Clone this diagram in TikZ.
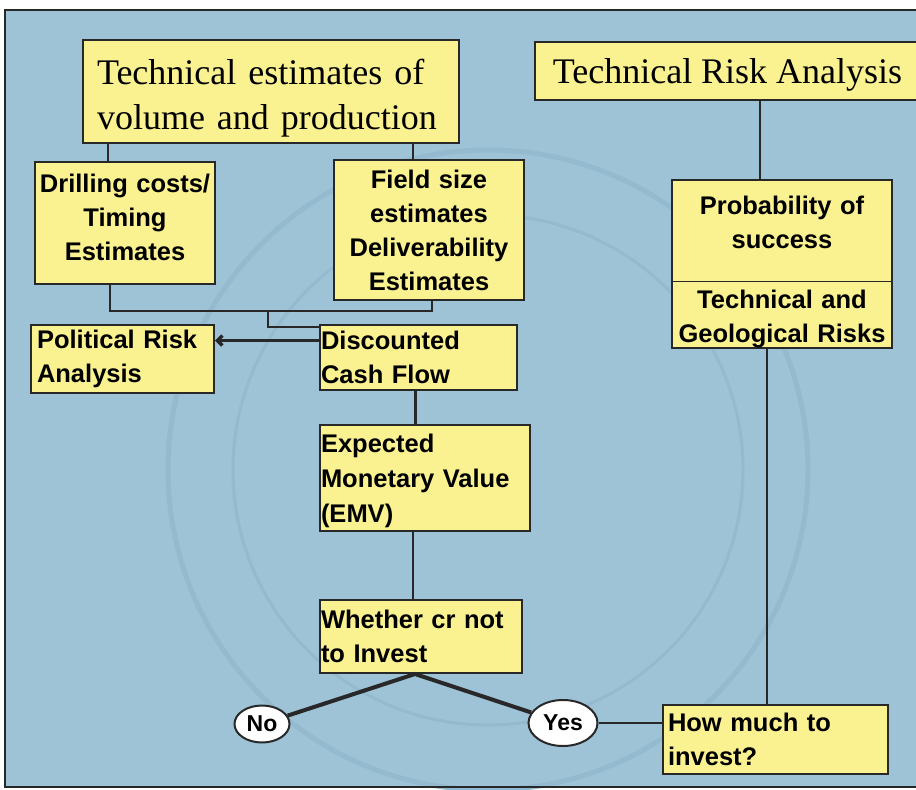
\documentclass[tikz,border=0pt]{standalone}
\usepackage{fontspec}
\setmainfont{Liberation Serif}
\setsansfont{Liberation Sans}
\usetikzlibrary{arrows.meta,shapes.geometric}
\definecolor{bgblue}{RGB}{158,195,214}
\definecolor{embblue}{RGB}{147,186,207}
\definecolor{boxyellow}{RGB}{250,241,145}
\definecolor{ink}{RGB}{40,40,40}

\begin{document}
\begin{tikzpicture}[x=1pt,y=-1pt]
\tikzstyle{infobox}=[draw=ink,line width=2pt,fill=boxyellow,inner sep=0pt,font=\sffamily\bfseries\fontsize{25.5}{34}\selectfont]
\tikzstyle{headbox}=[infobox,font=\rmfamily\fontsize{36}{45}\selectfont]
\tikzstyle{answer}=[ellipse,draw=ink,line width=2pt,fill=white,inner sep=0pt,font=\sffamily\bfseries\fontsize{23}{26}\selectfont]
\tikzstyle{edge}=[draw=ink,line width=2.5pt]
\tikzstyle{branch}=[draw=ink,line width=4pt]
\useasboundingbox (0,0) rectangle (916,790);
% slide background and faint emblem
\fill[white] (0,0) rectangle (916,790);
\fill[bgblue] (5,10) rectangle (916,787);
\draw[embblue,line width=5pt] (488,470) circle[radius=320];
\draw[embblue,line width=3pt] (488,470) circle[radius=255];
\draw[ink,line width=1.5pt] (916,10) -- (5,10) -- (5,787) -- (916,787);
% boxes
\node[headbox,minimum width=376pt,minimum height=103pt,text width=348pt,align=left] (volume) at (271,91.5) {\rule{0pt}{39pt}Technical estimates of\\volume and production};
\node[headbox,minimum width=385pt,minimum height=58pt,text height=30pt,text depth=6pt] (techrisk) at (727.5,71) {Technical Risk Analysis};
\node[infobox,minimum width=180pt,minimum height=122pt,text width=180pt,align=center] (drill) at (125,223) {Drilling costs/\\Timing\\Estimates\rule[-12pt]{0pt}{12pt}};
\node[infobox,minimum width=190pt,minimum height=140pt,text width=190pt,align=center] (field) at (429,230) {Field size\\estimates\\Deliverability\\Estimates};
\node[infobox,minimum width=220pt,minimum height=166pt,text width=220pt,align=center] (prob) at (782,264) {\rule{0pt}{35pt}Probability of\\success\\[26pt]Technical and\\Geological Risks};
\node[infobox,minimum width=183pt,minimum height=68pt,text width=171pt,align=left] (political) at (122.5,359) {Political Risk\\Analysis};
\node[infobox,minimum width=197pt,minimum height=65pt,text width=195pt,align=left] (dcf) at (418.5,357.5) {Discounted\\Cash Flow};
\node[infobox,minimum width=210pt,minimum height=106pt,text width=208pt,align=left,font=\sffamily\bfseries\fontsize{25.5}{35}\selectfont] (emv) at (425,478) {\rule{0pt}{24pt}Expected\\Monetary Value\\(EMV)};
\node[infobox,minimum width=202pt,minimum height=73pt,text width=200pt,align=left] (invest) at (421,636.5) {Whether cr not\\to Invest};
\node[infobox,minimum width=225pt,minimum height=69pt,text width=215pt,align=left] (howmuch) at (775.5,739.5) {How much to\\invest?};
\node[answer,minimum width=55pt,minimum height=37pt] (no) at (262,724) {No};
\node[answer,minimum width=69pt,minimum height=46pt] (yes) at (563,723) {Yes};
\draw[ink,line width=0.8pt] ([yshift=-103pt]prob.north west) -- ([yshift=-103pt]prob.north east);
% connectors
\path[edge] ([xshift=-17pt]drill.north) -- ([xshift=-17pt]drill.north |- volume.south);
\path[edge] ([xshift=-16pt]field.north) -- ([xshift=-16pt]field.north |- volume.south);
\coordinate (merge) at (268,311);
\path[edge] ([xshift=-15pt]drill.south) |- (merge) -| ([xshift=3pt]field.south);
\path[edge] (merge) |- ([yshift=-3pt]dcf.north west);
\path[edge,line width=3.5pt,-{Straight Barb[length=5pt,width=10pt]}] ([yshift=17pt]dcf.west) -- ([yshift=17pt]dcf.west -| political.east);
\path[edge] ([xshift=-3pt]dcf.south) -- ([xshift=-3pt]dcf.south |- emv.north);
\path[edge] ([xshift=-12pt]emv.south) -- ([xshift=-12pt]emv.south |- invest.north);
\path[branch] (no) -- ([xshift=-6pt]invest.south) -- (yes);
\path[edge,line width=1.5pt] (yes) -- (yes -| howmuch.west);
\path[edge] ([xshift=-22pt]prob.north) -- ([xshift=-22pt]prob.north |- techrisk.south);
\path[edge] ([xshift=-15pt]prob.south) -- ([xshift=-15pt]prob.south |- howmuch.north);
\end{tikzpicture}
\end{document}
